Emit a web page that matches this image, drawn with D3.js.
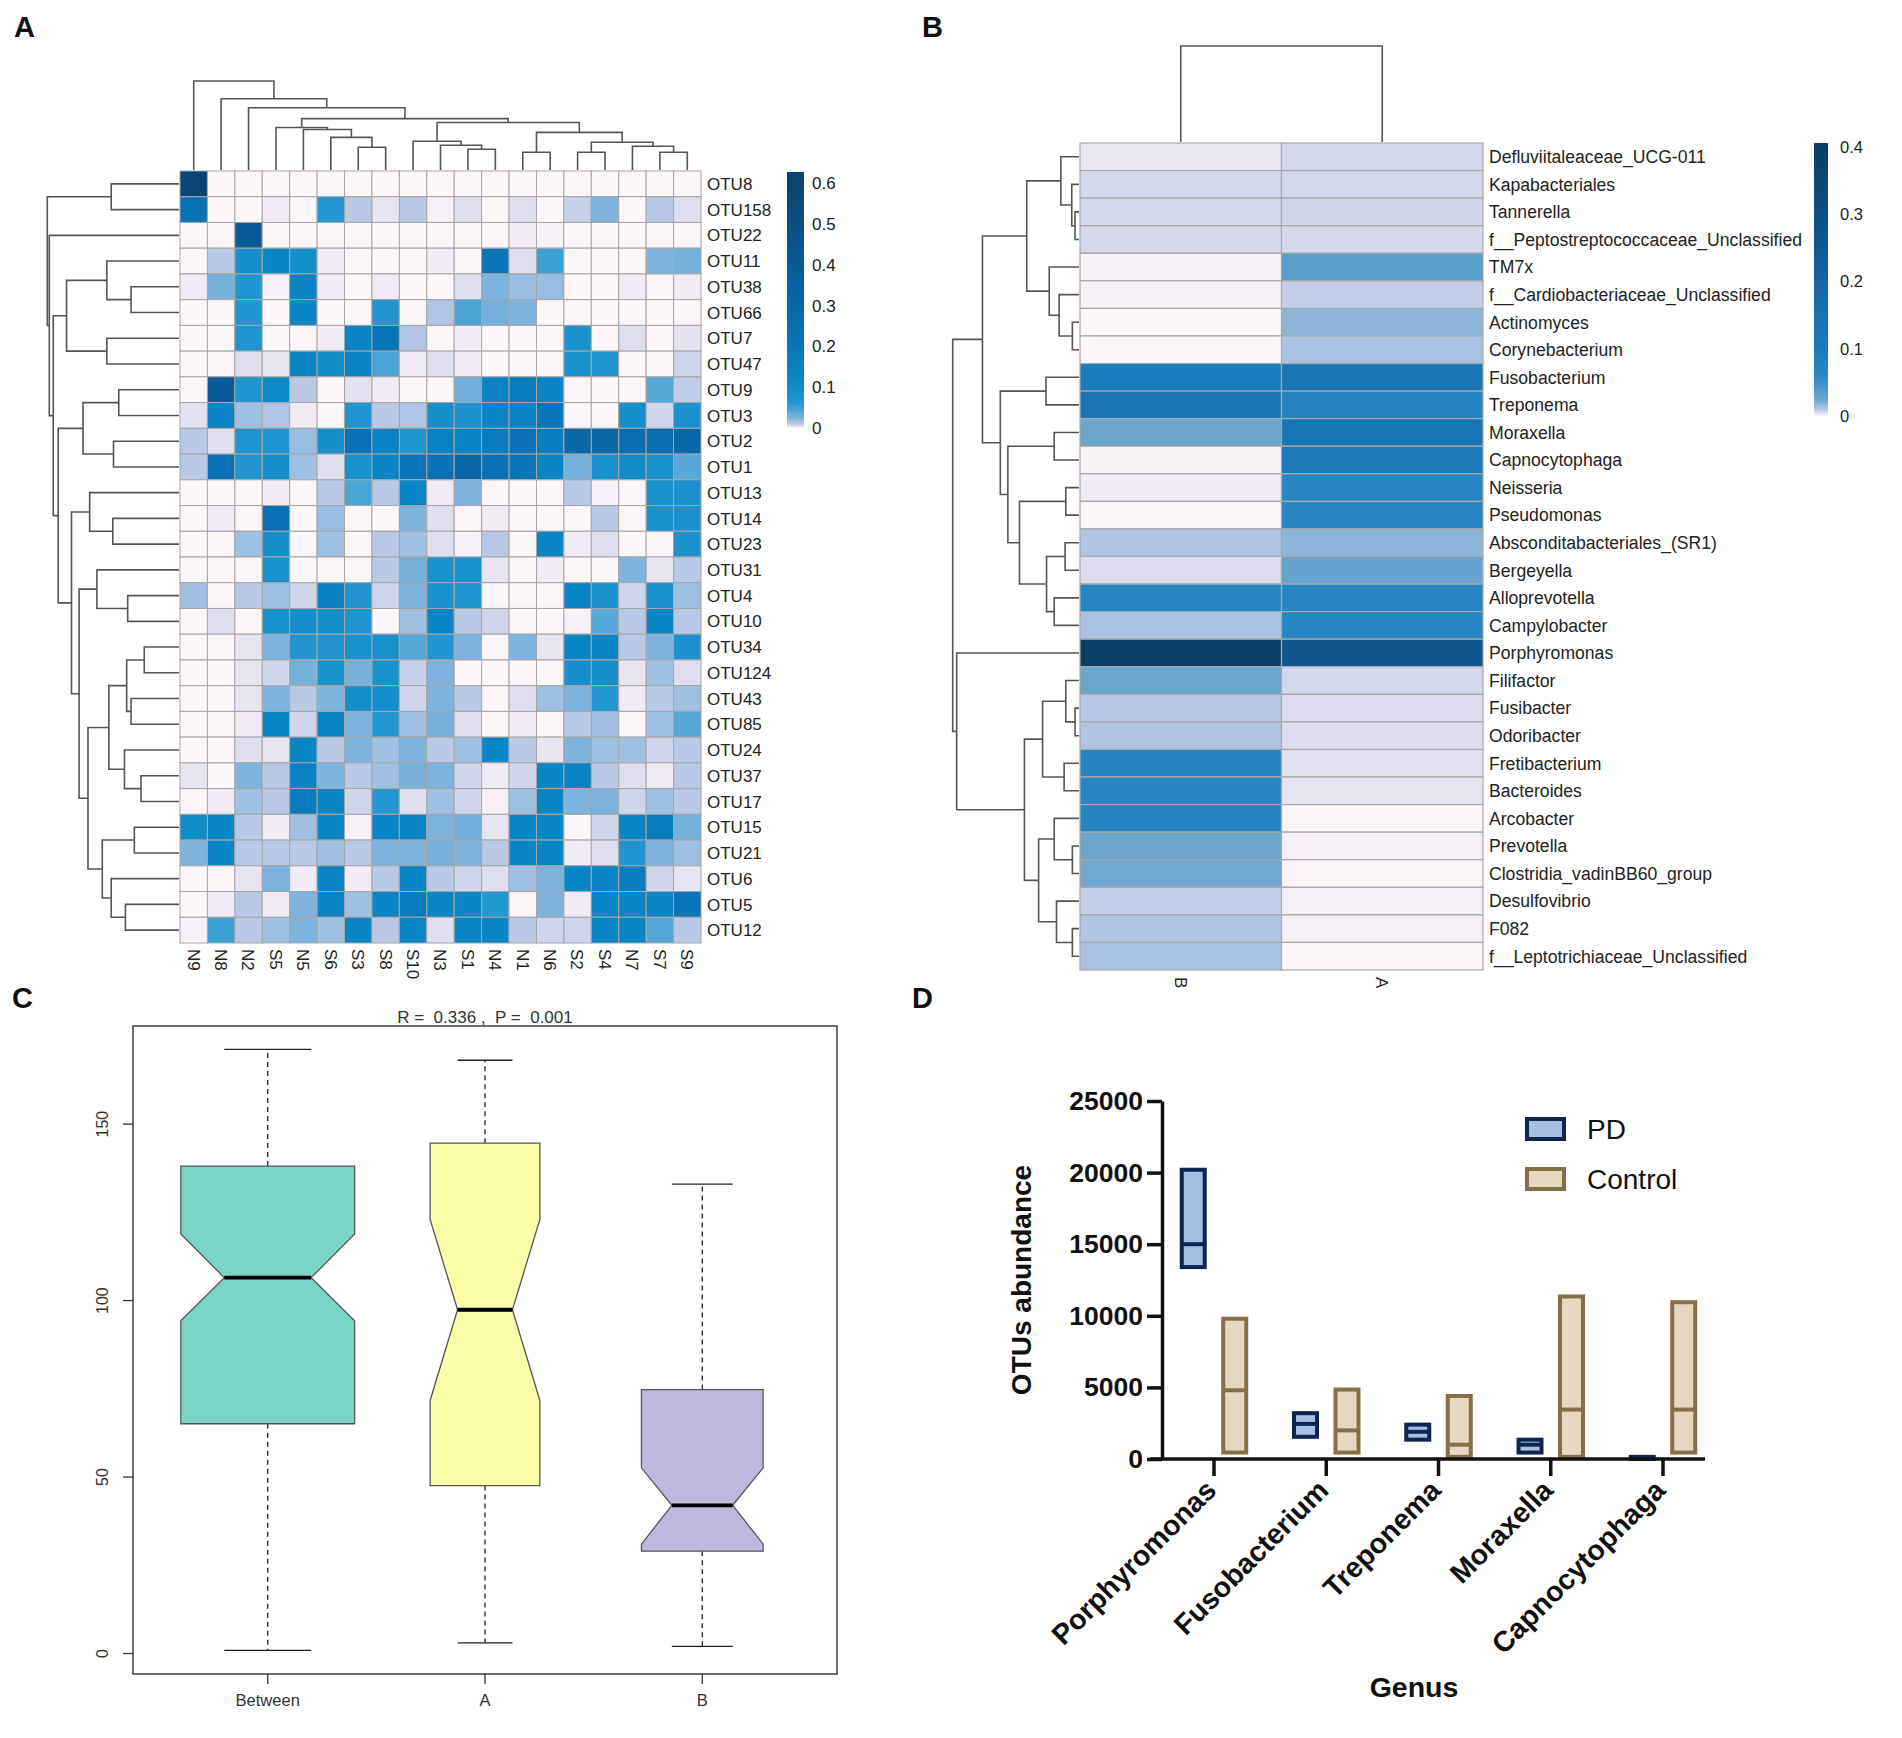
<!DOCTYPE html>
<html><head><meta charset="utf-8">
<script src="https://cdn.jsdelivr.net/npm/d3@7"></script>
<style>
body{margin:0;background:#fff}
svg text{font-family:"Liberation Sans",Arial,Helvetica,sans-serif}
</style>
</head><body>
<svg id="fig" width="1902" height="1738"></svg>
<script>
// ---------------- Panel A data ----------------
const aSamples = ["N9","N8","N2","S5","N5","S6","S3","S8","S10","N3","S1","N4","N1","N6","S2","S4","N7","S7","S9"];
const aOTUs = ["OTU8","OTU158","OTU22","OTU11","OTU38","OTU66","OTU7","OTU47","OTU9","OTU3","OTU2","OTU1","OTU13","OTU14","OTU23","OTU31","OTU4","OTU10","OTU34","OTU124","OTU43","OTU85","OTU24","OTU37","OTU17","OTU15","OTU21","OTU6","OTU5","OTU12"];
const aValues = [
 [0.6,0,0,0,0,0,0,0,0,0,0,0,0,0,0,0,0,0,0],
 [0.22,0,0,0.002,0,0.06,0.01,0.0035,0.01,0.001,0.005,0,0.005,0,0.008,0.025,0,0.01,0.005],
 [0,0,0.38,0,0,0,0,0,0,0,0,0,0.002,0.001,0,0,0,0,0],
 [0,0.01,0.09,0.12,0.09,0.002,0,0,0,0.002,0,0.2,0.005,0.05,0,0,0,0.025,0.028],
 [0.002,0.028,0.07,0.001,0.14,0.002,0,0.002,0,0,0.005,0.025,0.018,0.018,0,0,0.002,0,0.002],
 [0,0,0.07,0,0.12,0,0,0.07,0,0.012,0.045,0.028,0.025,0,0,0,0,0,0],
 [0,0,0.07,0,0,0.002,0.13,0.2,0.012,0,0.002,0,0,0,0.08,0,0.005,0,0.004],
 [0,0,0.005,0.0035,0.13,0.1,0.13,0.045,0.002,0.005,0.002,0,0,0,0.08,0.07,0,0,0.007],
 [0,0.38,0.07,0.11,0.01,0,0.004,0.002,0,0,0.03,0.14,0.17,0.13,0,0,0,0.04,0.009],
 [0.004,0.13,0.016,0.012,0.002,0,0.07,0.01,0.012,0.09,0.08,0.12,0.13,0.2,0,0,0.09,0.007,0.08],
 [0.01,0.005,0.07,0.07,0.018,0.09,0.22,0.14,0.07,0.14,0.13,0.17,0.22,0.17,0.3,0.3,0.25,0.25,0.3],
 [0.01,0.22,0.07,0.09,0.016,0.005,0.08,0.12,0.2,0.22,0.3,0.22,0.2,0.13,0.028,0.08,0.1,0.08,0.04],
 [0,0,0,0.002,0,0.01,0.045,0.01,0.12,0.002,0.025,0,0,0,0.01,0.001,0,0.08,0.08],
 [0,0.002,0,0.22,0,0.018,0,0,0.025,0.005,0,0.002,0,0,0,0.01,0,0.08,0.08],
 [0,0,0.016,0.09,0,0.016,0,0.01,0.016,0.005,0.001,0.01,0,0.12,0.002,0.005,0,0,0.08],
 [0,0,0,0.08,0,0,0,0.01,0.028,0.08,0.08,0.0035,0,0.002,0,0,0.025,0.0035,0.01],
 [0.016,0,0.01,0.016,0.007,0.15,0.07,0.007,0.025,0.08,0.07,0,0,0,0.12,0.08,0.007,0.08,0.016],
 [0,0.005,0,0.08,0.09,0.09,0.07,0,0.016,0.12,0.01,0.007,0,0,0.001,0.04,0.01,0.12,0.01],
 [0,0,0.0035,0.025,0.07,0.07,0.08,0.08,0.04,0.07,0.025,0,0.025,0.0035,0.12,0.12,0.01,0.025,0.08],
 [0,0,0.0035,0.007,0.028,0.08,0.028,0.08,0.008,0.025,0,0,0,0,0.09,0.09,0.0035,0.016,0.005],
 [0,0,0.0035,0.025,0.01,0.025,0.09,0.09,0.007,0.025,0.01,0,0.005,0.016,0.025,0.06,0.002,0.01,0.016],
 [0,0,0.002,0.12,0.007,0.12,0.025,0.06,0.016,0.028,0.005,0,0.002,0,0.01,0.016,0,0.016,0.04],
 [0,0,0.005,0.0035,0.12,0.01,0.025,0.016,0.025,0.01,0.016,0.12,0.01,0.0035,0.025,0.016,0.016,0.007,0.01],
 [0.0035,0,0.025,0.01,0.14,0.025,0.01,0.016,0.028,0.025,0.007,0.002,0.007,0.12,0.13,0.01,0.005,0.002,0.01],
 [0,0.002,0.016,0.01,0.17,0.12,0.007,0.06,0.005,0.016,0.007,0.001,0.016,0.12,0.025,0.025,0.007,0.016,0.01],
 [0.1,0.12,0.01,0.002,0.016,0.12,0.001,0.12,0.13,0.025,0.03,0.0035,0.12,0.12,0,0.007,0.12,0.17,0.028],
 [0.025,0.12,0.01,0.01,0.01,0.016,0.01,0.025,0.025,0.028,0.025,0.01,0.13,0.12,0.002,0.005,0.07,0.025,0.016],
 [0,0,0.0035,0.025,0.002,0.12,0.002,0.01,0.12,0.01,0.007,0.005,0.016,0.025,0.12,0.12,0.17,0.007,0.0035],
 [0,0.002,0.01,0.002,0.025,0.12,0.016,0.12,0.17,0.12,0.12,0.06,0,0.025,0.002,0.12,0.12,0.12,0.2],
 [0.001,0.05,0.01,0.016,0.025,0.016,0.12,0.01,0.12,0.005,0.12,0.12,0.01,0.007,0.007,0.12,0.12,0.04,0.01]
];
// trees: [height, left, right]
const aColTree = [0.90,"N9",[0.72,"N8",[0.63,"N2",[0.52,
  [0.43,"S5",[0.41,"N5",[0.33,"S6",[0.23,"S3","S8"]]]],
  [0.48,[0.29,"S10",[0.25,"N3",[0.21,"S1","N4"]]],
        [0.38,[0.18,"N1","N6"],[0.28,[0.18,"S2","S4"],[0.24,"N7",[0.18,"S7","S9"]]]]]]]]];
const aRowTree = [1.327,[0.683,"OTU8","OTU158"],[1.307,"OTU22",[1.267,
  [1.133,[0.727,"OTU11",[0.483,"OTU38","OTU66"]],[0.727,"OTU7","OTU47"]],
  [1.217,[0.967,[0.607,"OTU9","OTU3"],[0.66,"OTU2","OTU1"]],
   [1.083,[0.9,"OTU13",[0.667,"OTU14","OTU23"]],
    [1.007,[0.827,"OTU31",[0.517,"OTU4","OTU10"]],
     [0.917,[0.707,[0.527,[0.35,"OTU34","OTU124"],[0.483,"OTU43","OTU85"]],[0.55,"OTU24",[0.383,"OTU37","OTU17"]]],
            [0.773,[0.45,"OTU15","OTU21"],[0.683,"OTU6",[0.54,"OTU5","OTU12"]]]]]]]]]];
const aLegendTicks = [0,0.1,0.2,0.3,0.4,0.5,0.6];
const aLegendMax = 0.627;

// ---------------- Panel B data ----------------
const bGroups = ["B","A"];
const bGenera = ["Defluviitaleaceae_UCG-011","Kapabacteriales","Tannerella","f__Peptostreptococcaceae_Unclassified","TM7x","f__Cardiobacteriaceae_Unclassified","Actinomyces","Corynebacterium","Fusobacterium","Treponema","Moraxella","Capnocytophaga","Neisseria","Pseudomonas","Absconditabacteriales_(SR1)","Bergeyella","Alloprevotella","Campylobacter","Porphyromonas","Filifactor","Fusibacter","Odoribacter","Fretibacterium","Bacteroides","Arcobacter","Prevotella","Clostridia_vadinBB60_group","Desulfovibrio","F082","f__Leptotrichiaceae_Unclassified"];
const bValuesB = [0.003,0.006,0.006,0.0058,0.001,0.001,0,0,0.1,0.13,0.025,0.0008,0.002,0,0.011,0.005,0.07,0.012,0.4,0.025,0.01,0.011,0.072,0.07,0.072,0.025,0.024,0.008,0.011,0.012];
const bValuesA = [0.006,0.006,0.0065,0.0058,0.035,0.008,0.018,0.012,0.13,0.075,0.12,0.11,0.07,0.07,0.018,0.027,0.068,0.07,0.27,0.006,0.005,0.0048,0.004,0.0035,0,0.0015,0.0005,0.0015,0.0015,0];
const bColTree = [1.0,"B","A"];
const bRowTree = [1.273,
 [0.973,
  [0.527,[0.183,"Defluviitaleaceae_UCG-011",[0.073,"Kapabacteriales",[0.04,"Tannerella","f__Peptostreptococcaceae_Unclassified"]]],
         [0.30,"TM7x",[0.20,"f__Cardiobacteriaceae_Unclassified",[0.067,"Actinomyces","Corynebacterium"]]]],
  [0.793,[0.333,"Fusobacterium","Treponema"],
   [0.717,[0.25,"Moraxella","Capnocytophaga"],
    [0.60,[0.133,"Neisseria","Pseudomonas"],
     [0.327,[0.14,"Absconditabacteriales_(SR1)","Bergeyella"],[0.25,"Alloprevotella","Campylobacter"]]]]]],
 [1.233,"Porphyromonas",
  [0.55,[0.367,[0.133,"Filifactor",[0.04,"Fusibacter","Odoribacter"]],[0.15,"Fretibacterium","Bacteroides"]],
        [0.407,[0.25,"Arcobacter",[0.067,"Prevotella","Clostridia_vadinBB60_group"]],
               [0.227,"Desulfovibrio",[0.067,"F082","f__Leptotrichiaceae_Unclassified"]]]]]];
const bLegendTicks = [0,0.1,0.2,0.3,0.4];
const bLegendMax = 0.406;

// ---------------- Panel C data ----------------
const cGroups = ["Between","A","B"];
const cMin = [0.9,3.0,2.0];
const cQ1 = [65.1,47.6,29.0];
const cNotchLo = [94.3,71.7,31.0];
const cMedian = [106.5,97.4,42.0];
const cNotchHi = [118.9,123.0,52.6];
const cQ3 = [138.1,144.6,74.8];
const cMax = [171.2,168.1,133.0];
const cWidth = [0.80,0.505,0.56];
const cFill = ["#7ad5c6","#fcfda9","#bdb8dc"];
const cYTicks = [0,50,100,150];
const cTitle = "R =  0.336 ,  P =  0.001";

// ---------------- Panel D data ----------------
const dGenera = ["Porphyromonas","Fusobacterium","Treponema","Moraxella","Capnocytophaga"];
const dSeries = ["PD","Control"];
const dPDMin = [13400,1550,1350,450,0];
const dPDMid = [15000,2450,1900,1000,70];
const dPDMax = [20200,3200,2400,1350,150];
const dCtrlMin = [450,450,150,150,450];
const dCtrlMid = [4800,2000,1000,3450,3450];
const dCtrlMax = [9800,4850,4400,11350,10950];
const dYTicks = [0,5000,10000,15000,20000,25000];

// ================= drawing =================
const svg = d3.select("#fig");
const LINE = "#555";

function drawDendro(g, tree, pos, hs, orient){
  const segs = [];
  (function rec(node){
    if (typeof node === "string") return {p: pos(node), h: 0};
    const a = rec(node[1]), b = rec(node[2]);
    segs.push({a, b, H: node[0]});
    return {p: (a.p + b.p) / 2, h: node[0]};
  })(tree);
  g.selectAll("path").data(segs).join("path")
    .attr("fill","none").attr("stroke",LINE).attr("stroke-width",1.6)
    .attr("d", s => orient === "top"
      ? `M${s.a.p},${hs(s.a.h)}V${hs(s.H)}H${s.b.p}V${hs(s.b.h)}`
      : `M${hs(s.a.h)},${s.a.p}H${hs(s.H)}V${s.b.p}H${hs(s.b.h)}`);
}

function panelLabel(t, x, y){
  svg.append("text").attr("x",x).attr("y",y).attr("font-size",29).attr("font-weight","bold").attr("fill","#111").text(t);
}
panelLabel("A",14,37); panelLabel("B",922,37); panelLabel("C",12,1008); panelLabel("D",912,1008);

// ---------- Panel A ----------
const aColor = d3.scaleLinear()
  .domain([0,0.002,0.005,0.01,0.025,0.06,0.12,0.22,0.38,0.6])
  .range(["#fdf6f9","#f1ebf5","#dedeef","#b8c8e5","#7db3dc","#2498d2","#0a86c6","#0a71b6","#0a5c98","#0b4470"])
  .clamp(true);
const xA = d3.scaleBand().domain(aSamples).range([180,701]);
const yA = d3.scaleBand().domain(aOTUs).range([171,943]);
const gA = svg.append("g");
const cellsA = [];
aOTUs.forEach((o,i)=>aSamples.forEach((s,j)=>cellsA.push({o,s,v:aValues[i][j]})));
gA.selectAll("rect.cell").data(cellsA).join("rect").attr("class","cell")
  .attr("x",d=>xA(d.s)).attr("y",d=>yA(d.o))
  .attr("width",xA.bandwidth()).attr("height",yA.bandwidth())
  .attr("fill",d=>aColor(d.v)).attr("stroke","#a6a6a6").attr("stroke-width",1);
gA.selectAll("text.row").data(aOTUs).join("text").attr("class","row")
  .attr("x",707).attr("y",d=>yA(d)+yA.bandwidth()/2).attr("dy","0.36em")
  .attr("font-size",17).attr("fill","#222").text(d=>d);
gA.selectAll("text.col").data(aSamples).join("text").attr("class","col")
  .attr("transform",d=>`translate(${xA(d)+xA.bandwidth()/2},949) rotate(90)`)
  .attr("dy","0.36em").attr("font-size",17).attr("fill","#222").text(d=>d);
drawDendro(gA.append("g"), aColTree, d=>xA(d)+xA.bandwidth()/2,
  d3.scaleLinear().domain([0,0.9]).range([170,81]), "top");
drawDendro(gA.append("g"), aRowTree, d=>yA(d)+yA.bandwidth()/2,
  d3.scaleLinear().domain([0,1.327]).range([179,47.3]), "left");

function colorBar(id, scale, maxV, ticks, x, w, y0, y1, lx, fs){
  const ly = d3.scaleLinear().domain([0,maxV]).range([y0,y1]);
  const grad = svg.append("defs").append("linearGradient").attr("id",id)
    .attr("x1",0).attr("y1",1).attr("x2",0).attr("y2",0);
  grad.selectAll("stop").data(d3.range(0,201)).join("stop")
    .attr("offset",i=>i/200).attr("stop-color",i=>scale(i/200*maxV));
  svg.append("rect").attr("x",x).attr("y",y1).attr("width",w).attr("height",y0-y1).attr("fill",`url(#${id})`);
  svg.selectAll(`text.${id}`).data(ticks).join("text").attr("class",id)
    .attr("x",lx).attr("y",d=>ly(d)).attr("dy","0.36em").attr("font-size",fs).attr("fill","#222")
    .text(d=>d===0?"0":d.toFixed(1));
}
colorBar("gradA", aColor, aLegendMax, aLegendTicks, 787, 17, 428, 172, 812, 17);

// ---------- Panel B ----------
const bColor = d3.scaleLinear()
  .domain([0,0.002,0.005,0.01,0.025,0.06,0.1,0.15,0.25,0.4])
  .range(["#fdf6f9","#f1ebf5","#dcdcee","#b4c6e2","#6aa6d0","#2a8ac6","#1a7cbc","#1a70b0","#0f5a92","#0a3e66"])
  .clamp(true);
const xB = d3.scaleBand().domain(bGroups).range([1080,1483]);
const yB = d3.scaleBand().domain(bGenera).range([143,970]);
const gB = svg.append("g");
const cellsB = [];
bGenera.forEach((g,i)=>{cellsB.push({g,s:"B",v:bValuesB[i]});cellsB.push({g,s:"A",v:bValuesA[i]});});
gB.selectAll("rect.cell").data(cellsB).join("rect").attr("class","cell")
  .attr("x",d=>xB(d.s)).attr("y",d=>yB(d.g))
  .attr("width",xB.bandwidth()).attr("height",yB.bandwidth())
  .attr("fill",d=>bColor(d.v)).attr("stroke","#a9a9a9").attr("stroke-width",1.2);
gB.selectAll("text.row").data(bGenera).join("text").attr("class","row")
  .attr("x",1489).attr("y",d=>yB(d)+yB.bandwidth()/2).attr("dy","0.36em")
  .attr("font-size",17.6).attr("fill","#222").text(d=>d);
gB.selectAll("text.col").data(bGroups).join("text").attr("class","col")
  .attr("transform",d=>`translate(${xB(d)+xB.bandwidth()/2},977) rotate(90)`)
  .attr("dy","0.36em").attr("font-size",17).attr("fill","#222").text(d=>d);
drawDendro(gB.append("g"), bColTree, d=>xB(d)+xB.bandwidth()/2,
  d3.scaleLinear().domain([0,1]).range([142,46]), "top");
drawDendro(gB.append("g"), bRowTree, d=>yB(d)+yB.bandwidth()/2,
  d3.scaleLinear().domain([0,1.273]).range([1079,952.7]), "left");
colorBar("gradB", bColor, bLegendMax, bLegendTicks, 1814, 14, 416, 143, 1840, 16.5);

// ---------- Panel C ----------
const cx = d3.scaleLinear().domain([0.38,3.62]).range([133,837]);
const cy = d3.scaleLinear().domain([-5.8,177.8]).range([1674,1026]);
const gC = svg.append("g");
gC.append("text").attr("x",485).attr("y",1023).attr("text-anchor","middle")
  .attr("font-size",17).attr("fill","#333").style("white-space","pre").text(cTitle);
const boxes = cGroups.map((g,i)=>({g,i,pos:i+1,min:cMin[i],q1:cQ1[i],nl:cNotchLo[i],med:cMedian[i],nh:cNotchHi[i],q3:cQ3[i],max:cMax[i],w:cWidth[i],fill:cFill[i]}));
const bx = gC.selectAll("g.box").data(boxes).join("g").attr("class","box");
bx.append("line").attr("x1",d=>cx(d.pos)).attr("x2",d=>cx(d.pos)).attr("y1",d=>cy(d.q3)).attr("y2",d=>cy(d.max))
  .attr("stroke","#222").attr("stroke-width",1.3).attr("stroke-dasharray","5,4");
bx.append("line").attr("x1",d=>cx(d.pos)).attr("x2",d=>cx(d.pos)).attr("y1",d=>cy(d.q1)).attr("y2",d=>cy(d.min))
  .attr("stroke","#222").attr("stroke-width",1.3).attr("stroke-dasharray","5,4");
["max","min"].forEach(k=>{
  bx.append("line").attr("x1",d=>cx(d.pos-d.w/4)).attr("x2",d=>cx(d.pos+d.w/4))
    .attr("y1",d=>cy(d[k])).attr("y2",d=>cy(d[k])).attr("stroke","#222").attr("stroke-width",1.3);
});
bx.append("path").attr("fill",d=>d.fill).attr("stroke","#555").attr("stroke-width",1.3)
  .attr("d",d=>{
    const L=cx(d.pos-d.w/2), R=cx(d.pos+d.w/2), l=cx(d.pos-d.w/4), r=cx(d.pos+d.w/4);
    return `M${L},${cy(d.q3)}L${L},${cy(d.nh)}L${l},${cy(d.med)}L${L},${cy(d.nl)}L${L},${cy(d.q1)}`+
           `L${R},${cy(d.q1)}L${R},${cy(d.nl)}L${r},${cy(d.med)}L${R},${cy(d.nh)}L${R},${cy(d.q3)}Z`;
  });
bx.append("line").attr("x1",d=>cx(d.pos-d.w/4)).attr("x2",d=>cx(d.pos+d.w/4))
  .attr("y1",d=>cy(d.med)).attr("y2",d=>cy(d.med)).attr("stroke","#000").attr("stroke-width",3.8);
gC.append("rect").attr("x",133).attr("y",1026).attr("width",704).attr("height",648)
  .attr("fill","none").attr("stroke","#333").attr("stroke-width",1.4);
gC.selectAll("line.yt").data(cYTicks).join("line").attr("class","yt")
  .attr("x1",133).attr("x2",123).attr("y1",d=>cy(d)).attr("y2",d=>cy(d)).attr("stroke","#333").attr("stroke-width",1.3);
gC.selectAll("text.yt").data(cYTicks).join("text").attr("class","yt")
  .attr("transform",d=>`translate(108,${cy(d)}) rotate(-90)`).attr("text-anchor","middle")
  .attr("font-size",16).attr("fill","#333").text(d=>d);
gC.selectAll("line.xt").data(boxes).join("line").attr("class","xt")
  .attr("x1",d=>cx(d.pos)).attr("x2",d=>cx(d.pos)).attr("y1",1674).attr("y2",1684).attr("stroke","#333").attr("stroke-width",1.3);
gC.selectAll("text.xt").data(boxes).join("text").attr("class","xt")
  .attr("x",d=>cx(d.pos)).attr("y",1706).attr("text-anchor","middle")
  .attr("font-size",16.5).attr("fill","#333").text(d=>d.g);

// ---------- Panel D ----------
const yD = d3.scaleLinear().domain([0,25000]).range([1459,1101]);
const xD = d3.scalePoint().domain(dGenera).range([1214,1663]);
const xOff = d3.scalePoint().domain(dSeries).range([-20.75,20.75]);
const BW = 23;
const dStyle = {PD:{stroke:"#0f2451",fill:"#a9bfe0"}, Control:{stroke:"#866f48",fill:"#e4d8c3"}};
const gD = svg.append("g");
const barsD = [];
dGenera.forEach((g,i)=>{
  barsD.push({g,s:"PD",min:dPDMin[i],mid:dPDMid[i],max:dPDMax[i]});
  barsD.push({g,s:"Control",min:dCtrlMin[i],mid:dCtrlMid[i],max:dCtrlMax[i]});
});
const fb = gD.selectAll("g.fb").data(barsD).join("g").attr("class","fb");
fb.append("rect").attr("x",d=>xD(d.g)+xOff(d.s)-BW/2).attr("y",d=>yD(d.max))
  .attr("width",BW).attr("height",d=>Math.max(0.5,yD(d.min)-yD(d.max)))
  .attr("fill",d=>dStyle[d.s].fill).attr("stroke",d=>dStyle[d.s].stroke).attr("stroke-width",4);
fb.append("line").attr("x1",d=>xD(d.g)+xOff(d.s)-BW/2).attr("x2",d=>xD(d.g)+xOff(d.s)+BW/2)
  .attr("y1",d=>yD(d.mid)).attr("y2",d=>yD(d.mid)).attr("stroke",d=>dStyle[d.s].stroke).attr("stroke-width",4);
// y axis
const yAxis = gD.append("g").attr("transform","translate(1162,0)")
  .call(d3.axisLeft(yD).tickValues(dYTicks).tickSize(15).tickSizeOuter(0).tickPadding(4).tickFormat(d3.format("d")));
yAxis.selectAll("path,line").attr("stroke","#111").attr("stroke-width",3.5);
yAxis.selectAll("text").attr("font-size",26.5).attr("font-weight","bold").attr("fill","#111")
  .attr("font-family","'Liberation Sans',Arial,sans-serif");
// x axis
gD.append("line").attr("x1",1150).attr("x2",1705).attr("y1",1459).attr("y2",1459).attr("stroke","#111").attr("stroke-width",3.5);
gD.selectAll("line.xt").data(dGenera).join("line").attr("class","xt")
  .attr("x1",d=>xD(d)).attr("x2",d=>xD(d)).attr("y1",1459).attr("y2",1476).attr("stroke","#111").attr("stroke-width",3.5);
gD.selectAll("text.xt").data(dGenera).join("text").attr("class","xt")
  .attr("transform",d=>`translate(${xD(d)+4},${1492}) rotate(-45)`).attr("text-anchor","end")
  .attr("font-size",28.5).attr("font-weight","bold").attr("fill","#111").text(d=>d);
gD.append("text").attr("transform","translate(1031,1280) rotate(-90)").attr("text-anchor","middle")
  .attr("font-size",28).attr("font-weight","bold").attr("fill","#111").text("OTUs abundance");
gD.append("text").attr("x",1414).attr("y",1697).attr("text-anchor","middle")
  .attr("font-size",28.5).attr("font-weight","bold").attr("fill","#111").text("Genus");
// legend
const lg = gD.selectAll("g.lg").data(dSeries).join("g").attr("class","lg")
  .attr("transform",(d,i)=>`translate(1527,${1119+i*50})`);
lg.append("rect").attr("width",37).attr("height",20)
  .attr("fill",d=>dStyle[d].fill).attr("stroke",d=>dStyle[d].stroke).attr("stroke-width",4);
lg.append("text").attr("x",60).attr("y",10).attr("dy","0.36em").attr("font-size",28).attr("fill","#111").text(d=>d);
</script>
</body></html>
